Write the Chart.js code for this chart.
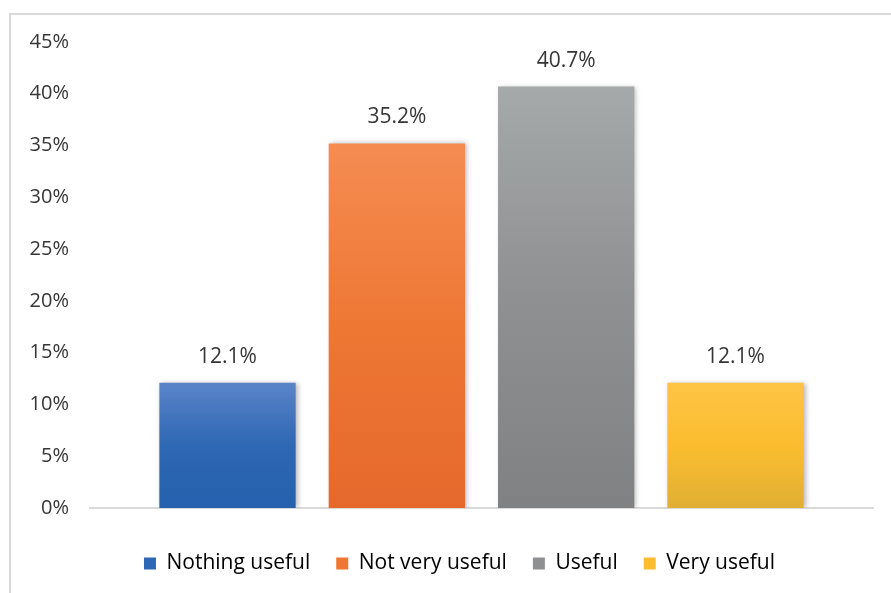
<!DOCTYPE html>
<html>
<head>
<meta charset="utf-8">
<script src="https://cdn.jsdelivr.net/npm/chart.js@4/dist/chart.umd.min.js"></script>
<style>
	html, body { margin: 0; padding: 0; background: #fff; }
	#wrap { width: 891px; height: 593px; position: relative; }
</style>
</head>
<body>
<div id="wrap"><canvas id="bar-chart"></canvas></div>
<script>
var categories = ["Nothing useful", "Not very useful", "Useful", "Very useful"];
var values = [12.1, 35.2, 40.7, 12.1];
var yTicks = [0, 5, 10, 15, 20, 25, 30, 35, 40, 45];

// top / bottom colours of each bar's gradient
var topColors = ["#5a84c8", "#f58c52", "#a6a9a9", "#fec445"];
var bottomColors = ["#2561ae", "#e5692c", "#7f8183", "#e0af33"];
var legendColors = ["#2e67b4", "#ee7734", "#8e9091", "#fbbd2f"];

var font = "'Open Sans', sans-serif";
var textColor = "#363636";

function barFill(i){
	return function(ctx){
		var chart = ctx.chart;
		var y = chart.scales.y;
		if (!y || !chart.chartArea) return legendColors[i];
		var top = y.getPixelForValue(values[i]);
		var bottom = y.getPixelForValue(0);
		var g = chart.ctx.createLinearGradient(0, top, 0, bottom);
		g.addColorStop(0, topColors[i]);
		g.addColorStop(0.5, legendColors[i]);
		g.addColorStop(1, bottomColors[i]);
		return g;
	};
}

var datasets = categories.map(function(name, i){
	return {
		label: name,
		data: [values[i]],
		backgroundColor: barFill(i),
		borderWidth: 0,
		categoryPercentage: 0.865,
		barPercentage: 0.805
	};
});

// light frame along the top and left edge
var framePlugin = {
	id: "frame",
	beforeDraw: function(chart){
		var c = chart.ctx;
		c.save();
		c.strokeStyle = "#d9d9d9";
		c.lineWidth = 2;
		c.beginPath();
		c.moveTo(10, chart.height);
		c.lineTo(10, 14);
		c.lineTo(chart.width, 14);
		c.stroke();
		c.restore();
	}
};

// centre the legend under the bars rather than under the whole canvas
var legendShift = {
	id: "legendShift",
	afterLayout: function(chart){
		if (chart.legend) chart.legend.left += 46;
	}
};

// soft shadow on the right of the bars
var shadowPlugin = {
	id: "barShadow",
	beforeDatasetsDraw: function(chart){
		var c = chart.ctx;
		c.save();
		c.shadowColor = "rgba(0,0,0,0.28)";
		c.shadowBlur = 5;
		c.shadowOffsetX = 2;
		c.shadowOffsetY = 0;
	},
	afterDatasetsDraw: function(chart){
		chart.ctx.restore();
	}
};

// value labels above each bar
var valueLabels = {
	id: "valueLabels",
	afterDatasetsDraw: function(chart){
		var c = chart.ctx;
		c.save();
		c.font = "21px " + font;
		c.fillStyle = textColor;
		c.textAlign = "center";
		c.textBaseline = "middle";
		chart.data.datasets.forEach(function(ds, i){
			var bar = chart.getDatasetMeta(i).data[0];
			c.fillText(ds.data[0].toFixed(1) + "%", bar.x, bar.y - 26);
		});
		c.restore();
	}
};

new Chart(document.getElementById("bar-chart"), {
	type: "bar",
	data: {
		labels: [""],
		datasets: datasets
	},
	plugins: [framePlugin, legendShift, shadowPlugin, valueLabels],
	options: {
		responsive: true,
		maintainAspectRatio: false,
		animation: false,
		layout: { padding: { top: 42, right: 18, bottom: 9, left: 0 } },
		plugins: {
			tooltip: { enabled: false },
			legend: {
				position: "bottom",
				labels: {
					boxWidth: 12,
					boxHeight: 12,
					padding: 26,
					color: textColor,
					font: { family: font, size: 21 },
					generateLabels: function(chart){
						return chart.data.datasets.map(function(ds, i){
							return {
								text: ds.label,
								fillStyle: legendColors[i],
								strokeStyle: legendColors[i],
								lineWidth: 0,
								datasetIndex: i
							};
						});
					}
				}
			}
		},
		scales: {
			x: {
				grid: { display: false },
				border: { display: true, color: "#d9d9d9", width: 2 },
				ticks: { display: false },
				afterFit: function(scale){ scale.height = 19; }
			},
			y: {
				min: 0,
				max: 45,
				afterBuildTicks: function(scale){
					scale.ticks = yTicks.map(function(v){ return { value: v }; });
				},
				grid: { display: false, drawTicks: false },
				border: { display: false },
				ticks: {
					padding: 21,
					color: textColor,
					font: { family: font, size: 20 },
					callback: function(v){ return v + "%"; }
				},
				afterFit: function(scale){ scale.width = 90; }
			}
		}
	}
});
</script>
</body>
</html>
